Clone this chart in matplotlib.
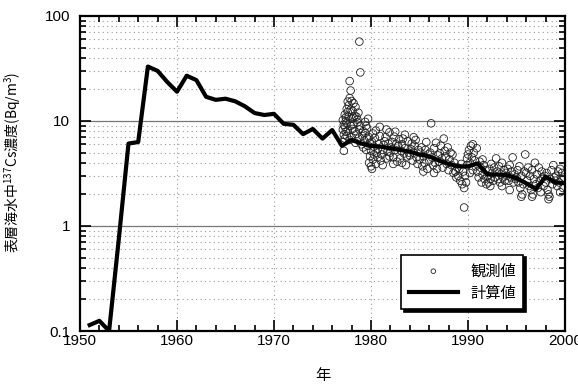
import numpy as np
import matplotlib
matplotlib.use("Agg")
import matplotlib.pyplot as plt
from matplotlib.ticker import FixedLocator, FuncFormatter, MultipleLocator

plt.rcParams["font.family"] = ["Liberation Sans", "Noto Sans CJK JP", "DejaVu Sans"]
plt.rcParams["mathtext.default"] = "regular"

# model (calculated) values, one per year
calc_year = list(range(1951, 2001))
calc_value = [0.114, 0.125, 0.100, 0.75, 6.1, 6.3, 33.0, 30.0, 23.5, 19.0,
              27.0, 24.5, 17.0, 15.9, 16.3, 15.4, 13.8, 11.9, 11.4, 11.7,
              9.4, 9.2, 7.5, 8.4, 6.8, 8.2, 5.8, 6.6, 6.1, 5.8,
              5.7, 5.5, 5.3, 5.1, 4.8, 4.6, 4.2, 3.9, 3.7, 3.7,
              3.95, 3.1, 3.1, 3.05, 2.85, 2.55, 2.25, 2.95, 2.6, 2.55]

# observed values
obs_year = [
    1977.2, 1977.1, 1977.3, 1977.2, 1977.4, 1977.1, 1977.3, 1977.2, 1977.5, 1977.1,
    1977.4, 1977.3, 1977.6, 1977.5, 1977.7, 1977.6, 1977.8, 1977.9, 1977.8, 1977.7,
    1977.9, 1977.6, 1977.5, 1977.8, 1977.4, 1977.9,
    1978.0, 1978.1, 1978.2, 1978.0, 1978.3, 1978.1, 1978.4, 1978.2, 1978.5, 1978.6,
    1978.3, 1978.5, 1978.7, 1978.4, 1978.6, 1978.8, 1978.9, 1978.9, 1978.8, 1978.7,
    1978.0, 1978.2,
    1979.0, 1979.1, 1979.2, 1979.3, 1979.4, 1979.2, 1979.5, 1979.6, 1979.7, 1979.8,
    1979.9, 1979.5, 1979.7, 1979.9, 1979.8, 1979.6, 1979.4,
    1980.0, 1980.1, 1980.2, 1980.0, 1980.3, 1980.1, 1980.4, 1980.2, 1980.5, 1980.6,
    1980.7, 1980.8, 1980.9, 1980.5, 1980.3, 1980.7, 1980.9,
    1981.0, 1981.1, 1981.2, 1981.3, 1981.4, 1981.5, 1981.6, 1981.7, 1981.8, 1981.9,
    1981.2, 1981.6, 1981.9,
    1982.0, 1982.1, 1982.2, 1982.3, 1982.4, 1982.5, 1982.6, 1982.7, 1982.8, 1982.9,
    1982.3, 1982.5,
    1983.0, 1983.1, 1983.2, 1983.3, 1983.4, 1983.5, 1983.6, 1983.7, 1983.8, 1983.9,
    1983.5, 1983.2,
    1984.0, 1984.1, 1984.2, 1984.3, 1984.4, 1984.5, 1984.6, 1984.7, 1984.8, 1984.9,
    1984.4,
    1985.0, 1985.1, 1985.2, 1985.3, 1985.4, 1985.5, 1985.6, 1985.7, 1985.8, 1985.9,
    1985.4,
    1986.0, 1986.1, 1986.2, 1986.3, 1986.4, 1986.5, 1986.6, 1986.7, 1986.8, 1986.9,
    1986.5,
    1987.0, 1987.1, 1987.2, 1987.3, 1987.4, 1987.5, 1987.6, 1987.7, 1987.8, 1987.9,
    1988.0, 1988.1, 1988.2, 1988.3, 1988.4, 1988.5, 1988.6, 1988.7, 1988.8, 1988.9,
    1989.0, 1989.1, 1989.2, 1989.3, 1989.4, 1989.5, 1989.6, 1989.6, 1989.7, 1989.8,
    1989.9, 1989.9,
    1990.0, 1990.1, 1990.2, 1990.3, 1990.4, 1990.5, 1990.6, 1990.7, 1990.8, 1990.9,
    1990.5, 1990.2,
    1991.0, 1991.1, 1991.2, 1991.3, 1991.4, 1991.5, 1991.6, 1991.7, 1991.8, 1991.9,
    1991.5,
    1992.0, 1992.1, 1992.2, 1992.3, 1992.4, 1992.5, 1992.6, 1992.7, 1992.8, 1992.9,
    1992.3,
    1993.0, 1993.1, 1993.2, 1993.3, 1993.4, 1993.5, 1993.6, 1993.7, 1993.8, 1993.9,
    1993.5,
    1994.0, 1994.1, 1994.2, 1994.3, 1994.4, 1994.5, 1994.6, 1994.7, 1994.8, 1994.9,
    1994.3,
    1995.0, 1995.1, 1995.2, 1995.3, 1995.4, 1995.5, 1995.6, 1995.7, 1995.8, 1995.9,
    1995.5,
    1996.0, 1996.1, 1996.2, 1996.3, 1996.4, 1996.5, 1996.6, 1996.7, 1996.8, 1996.9,
    1996.6,
    1997.0, 1997.1, 1997.2, 1997.3, 1997.4, 1997.5, 1997.6, 1997.7, 1997.8, 1997.9,
    1998.0, 1998.1, 1998.2, 1998.3, 1998.4, 1998.5, 1998.6, 1998.7, 1998.8, 1998.9,
    1998.3,
    1999.0, 1999.1, 1999.2, 1999.3, 1999.4, 1999.5, 1999.6, 1999.7, 1999.8, 1999.9,
    1999.5,
]
obs_value = [
    5.2, 6.3, 6.8, 7.4, 7.9, 8.3, 8.8, 9.2, 9.6, 10.2,
    10.8, 11.5, 12.2, 13.0, 14.1, 15.3, 16.5, 19.5, 24.0, 11.0,
    9.0, 8.1, 7.2, 6.6, 10.0, 12.8,
    7.0, 8.4, 9.3, 10.5, 11.2, 12.5, 13.6, 14.8, 11.0, 9.7,
    8.0, 7.5, 6.8, 6.2, 10.3, 57.0, 29.0, 9.0, 8.3, 12.0,
    15.5, 10.8,
    6.0, 7.2, 8.0, 6.5, 7.7, 5.6, 9.0, 8.5, 10.5, 7.0,
    6.2, 5.3, 5.8, 4.6, 4.0, 6.8, 9.8,
    3.7, 3.5, 4.3, 5.2, 5.7, 6.3, 6.9, 7.6, 8.1, 5.0,
    4.5, 6.0, 7.2, 3.9, 4.8, 5.4, 8.8,
    4.2, 4.8, 5.3, 5.9, 6.4, 7.0, 4.4, 5.1, 6.1, 7.8,
    3.8, 8.3, 4.6,
    5.0, 5.6, 6.3, 4.5, 7.1, 5.3, 6.0, 4.1, 5.8, 6.7,
    3.9, 7.9,
    4.4, 5.2, 6.0, 6.8, 4.9, 5.5, 3.8, 4.6, 6.4, 5.0,
    7.4, 4.0,
    4.7, 5.4, 6.1, 4.2, 5.0, 5.8, 6.6, 4.5, 3.9, 5.3,
    7.0,
    4.3, 5.0, 5.6, 3.7, 4.6, 4.0, 5.3, 6.3, 3.5, 4.8,
    3.3,
    4.2, 5.0, 9.5, 4.5, 3.8, 5.5, 4.0, 6.2, 3.5, 4.7,
    3.2,
    4.1, 4.9, 5.8, 4.4, 3.6, 6.8, 5.2, 4.6, 3.9, 5.6,
    3.4, 4.3, 5.0, 3.8, 4.8, 3.2, 4.0, 3.3, 2.9, 3.6,
    3.0, 3.5, 2.7, 3.9, 2.5, 3.3, 1.5, 2.3, 3.0, 2.6,
    3.8, 4.4,
    4.8, 5.3, 4.0, 5.8, 4.5, 3.4, 5.0, 4.2, 3.7, 5.5,
    6.0, 3.2,
    3.3, 2.9, 4.1, 3.6, 2.6, 3.1, 3.8, 2.8, 3.4, 2.5,
    4.3,
    3.0, 2.6, 3.5, 2.8, 3.9, 3.2, 2.7, 3.6, 2.9, 4.4,
    2.4,
    3.3, 2.8, 3.7, 2.6, 3.1, 4.0, 2.9, 3.4, 2.7, 3.2,
    2.4,
    3.0, 3.5, 2.7, 3.8, 2.9, 3.3, 4.5, 2.6, 3.1, 2.8,
    2.2,
    2.9, 3.4, 2.6, 3.7, 2.3, 3.0, 2.0, 2.5, 3.3, 4.8,
    1.9,
    3.2, 2.7, 3.6, 2.4, 3.0, 2.2, 3.4, 2.0, 2.8, 4.0,
    1.9,
    2.5, 3.1, 2.3, 3.6, 2.7, 2.1, 3.3, 2.9, 2.4, 3.0,
    2.6, 3.2, 2.2, 2.0, 1.9, 2.8, 3.4, 2.5, 3.8, 2.9,
    1.8,
    2.7, 3.0, 2.4, 3.3, 2.6, 2.1, 2.8, 3.2, 2.3, 2.9,
    3.5,
]

x_ticks = [1950, 1960, 1970, 1980, 1990, 2000]
y_ticks = [0.1, 1, 10, 100]

fig = plt.figure(figsize=(5.78, 3.87), dpi=100)
ax = fig.add_axes([0.1384, 0.1447, 0.8391, 0.814])

# grid first so data sits on top
minor_y = [m * 10.0 ** e for e in (-1, 0, 1) for m in range(2, 10)]
for v in minor_y:
    ax.axhline(v, color="#999999", lw=0.8, ls=(0, (1, 3)), zorder=0)
for v in (1, 10):
    ax.axhline(v, color="#777777", lw=0.9, zorder=0)
for v in (1960, 1970, 1980, 1990):
    ax.axvline(v, color="#999999", lw=0.8, ls=(0, (1, 3)), zorder=0)

ax.scatter(obs_year, obs_value, s=30, facecolors="none", edgecolors="#222222",
           linewidths=0.6, zorder=2, label="観測値")
ax.plot(calc_year, calc_value, color="black", lw=3.0, zorder=3, label="計算値")

ax.set_yscale("log")
ax.set_xlim(1950, 2000)
ax.set_ylim(0.1, 100)
ax.xaxis.set_major_locator(FixedLocator(x_ticks))
ax.xaxis.set_minor_locator(MultipleLocator(2))
ax.yaxis.set_major_locator(FixedLocator(y_ticks))
ax.yaxis.set_minor_locator(FixedLocator(minor_y))
ax.yaxis.set_major_formatter(FuncFormatter(lambda v, p: "%g" % v))
ax.yaxis.set_minor_formatter(FuncFormatter(lambda v, p: ""))
ax.tick_params(which="both", direction="in", top=True, right=True,
               labelsize=11, width=1.2)
ax.tick_params(axis="x", pad=2)
ax.tick_params(axis="y", pad=7)
ax.tick_params(which="major", length=8)
ax.tick_params(which="minor", length=4)
for s in ax.spines.values():
    s.set_linewidth(1.6)

ax.set_xlabel("年", family="Noto Sans CJK JP", fontsize=11, labelpad=14)
ax.set_ylabel("表層海水中$^{137}$Cs濃度(Bq/m$^3$)", family="Noto Sans CJK JP",
              fontsize=10, labelpad=6)
ax.yaxis.set_label_coords(-0.118, 0.535)

leg = ax.legend(loc="lower right", bbox_to_anchor=(0.93, 0.045),
                prop={"family": "Noto Sans CJK JP", "size": 11},
                fancybox=False, framealpha=1, edgecolor="black",
                shadow={"color": "black", "alpha": 1}, markerscale=0.6,
                handlelength=3.2, borderpad=0.5, labelspacing=0.35)
leg.get_frame().set_linewidth(1.2)

fig.savefig("out.png", dpi=100)
